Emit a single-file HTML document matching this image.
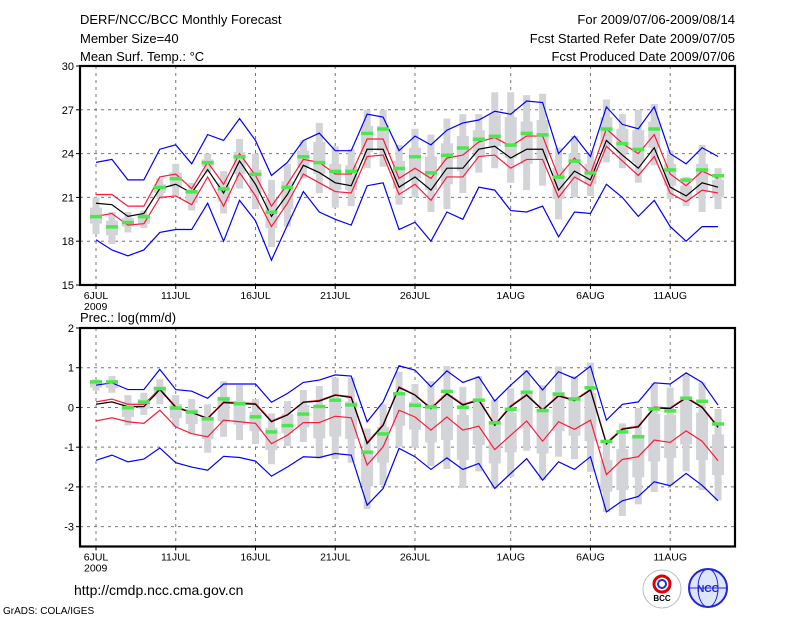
<!DOCTYPE html>
<html><head><meta charset="utf-8"><style>
body{margin:0;background:#fff;}
svg{display:block;font-family:"Liberation Sans",sans-serif;}
</style></head><body>
<svg id="c" width="800" height="618" viewBox="0 0 800 618">
<g font-size="13" fill="#000">
<text x="80" y="24">DERF/NCC/BCC Monthly Forecast</text>
<text x="80" y="43">Member Size=40</text>
<text x="80" y="61">Mean Surf. Temp.: °C</text>
<text x="735" y="24" text-anchor="end">For 2009/07/06-2009/08/14</text>
<text x="735" y="43" text-anchor="end">Fcst Started Refer Date 2009/07/05</text>
<text x="735" y="61" text-anchor="end">Fcst Produced Date 2009/07/06</text>
<text x="80" y="322">Prec.: log(mm/d)</text>
<text x="74" y="595" font-size="14">http://cmdp.ncc.cma.gov.cn</text>
<text x="3" y="614" font-size="10">GrADS: COLA/IGES</text>
</g>
<g><circle cx="662" cy="589" r="19" fill="#fff" stroke="#bbb"/><circle cx="662" cy="584" r="8" fill="none" stroke="#d00" stroke-width="3"/><circle cx="662" cy="584" r="4" fill="none" stroke="#23c" stroke-width="2"/><text x="662" y="601" font-size="8" text-anchor="middle" font-weight="bold">BCC</text></g>
<g><circle cx="708" cy="588" r="19" fill="#dde6ff" stroke="#22d" stroke-width="2"/><ellipse cx="708" cy="588" rx="10" ry="19" fill="none" stroke="#22d"/><line x1="689" y1="588" x2="727" y2="588" stroke="#22d"/><text x="708" y="592" font-size="10" text-anchor="middle" fill="#22d" font-weight="bold">NCC</text></g>
<g id="top"></g><g id="bot"></g>
</svg>
<script>
const days=["6JUL","11JUL","16JUL","21JUL","26JUL","1AUG","6AUG","11AUG"];
const dayIdx=[0,5,10,15,20,26,31,36];
const tTicks=[15,18,21,24,27,30];
const pTicks=[-3,-2,-1,0,1,2];
const tMean=[20.6,20.5,19.7,19.9,21.6,21.9,21.3,22.9,21.3,23.5,21.9,19.7,21.2,23.2,22.7,22.0,21.8,24.3,24.3,21.7,22.4,21.5,23.0,23.0,24.3,24.5,23.7,24.3,24.3,21.5,22.8,22.2,24.9,23.9,23.0,24.4,21.7,21.1,22.0,21.7];
const tRedHi=[21.2,21.2,20.4,20.4,22.4,22.6,21.6,23.4,21.9,24.0,22.5,20.4,21.9,23.6,23.4,22.6,22.6,25.0,25.0,22.3,23.0,22.3,23.7,23.9,24.8,25.1,24.5,25.2,25.2,22.4,23.7,22.6,25.7,24.7,24.0,25.3,22.6,21.8,22.8,22.3];
const tRedLo=[19.7,19.9,19.1,19.2,21.0,21.1,20.5,22.4,20.4,22.7,21.1,19.0,20.6,22.6,22.0,21.4,21.3,23.8,23.9,21.2,21.9,20.8,22.4,22.4,23.8,23.9,23.0,23.6,23.6,21.0,22.4,21.8,24.5,23.5,22.5,23.8,21.3,20.7,21.5,21.3];
const tBlueHi=[23.4,23.6,22.2,22.2,24.3,24.6,23.3,25.3,24.9,26.4,24.9,22.5,23.4,24.9,25.4,24.2,24.2,26.7,26.5,24.2,25.2,24.6,25.6,26.1,26.3,26.9,26.7,27.6,27.5,24.0,25.2,23.8,27.2,26.0,25.7,27.2,24.0,23.3,24.4,23.8];
const tBlueLo=[18.1,17.4,17.0,17.4,18.6,18.8,18.8,20.6,18.0,20.8,19.4,16.7,19.1,21.4,20.0,19.5,19.1,21.8,22.0,18.8,19.3,18.0,20.0,19.5,21.7,21.5,20.1,20.0,20.4,18.3,20.0,19.9,21.9,21.0,19.7,20.8,19.0,18.0,19.0,19.0];
const tObs=[19.7,19.0,19.3,19.7,21.7,22.3,21.4,23.4,21.6,23.8,22.6,20.0,21.7,23.8,23.4,22.8,22.8,25.4,25.7,23.0,23.8,22.7,23.9,24.4,25.0,25.2,24.6,25.4,25.3,22.4,23.5,22.7,25.7,24.7,24.3,25.7,22.9,22.2,22.9,22.5];
const tMax=[21.0,20.0,20.0,20.1,22.3,23.3,22.0,24.0,22.8,25.0,24.0,22.2,23.3,24.9,26.1,24.5,24.3,27.0,27.0,24.6,25.7,25.3,26.4,26.7,26.7,28.2,28.2,28.0,28.1,24.4,25.2,24.1,27.7,26.7,27.0,27.4,24.2,22.4,24.6,23.0];
const tMin=[18.5,17.8,18.6,18.9,20.9,21.1,20.1,22.7,19.9,21.6,20.2,17.6,19.0,22.3,21.3,20.3,20.4,23.0,23.1,20.5,21.0,20.0,20.2,21.3,22.7,23.0,22.0,21.5,21.8,19.5,21.0,21.1,23.4,23.0,22.0,23.2,20.9,20.4,20.0,20.2];
const tQ3=[20.3,19.4,19.6,19.8,21.9,22.7,21.5,23.6,22.0,24.1,22.9,20.9,22.1,24.2,24.8,23.3,23.2,25.9,25.9,23.5,24.4,23.8,24.7,25.2,25.6,26.7,26.5,26.2,26.3,23.0,24.0,23.3,26.5,25.7,25.6,26.2,23.3,21.8,23.3,22.2];
const tQ1=[19.2,18.4,19.0,19.2,21.3,21.7,20.6,23.1,20.7,22.6,21.3,18.9,20.2,23.0,22.6,21.5,21.5,24.1,24.2,21.6,22.3,21.5,21.9,22.8,23.8,24.5,23.7,23.3,23.6,20.9,22.2,21.9,24.6,24.0,23.4,24.4,21.8,21.0,21.3,21.0];
const pMean=[0.08,0.14,0.02,0.02,0.45,0.0,-0.13,-0.28,0.12,0.10,0.08,-0.36,-0.19,0.13,0.16,0.31,0.25,-0.91,-0.45,0.50,0.31,-0.03,0.34,0.06,0.18,-0.45,0.02,0.31,-0.07,0.29,0.17,0.44,-0.92,-0.55,-0.49,-0.01,-0.03,0.24,0.0,-0.50];
const pRedHi=[0.14,0.21,0.08,0.08,0.47,0.02,-0.12,-0.27,0.14,0.12,0.10,-0.34,-0.18,0.14,0.18,0.32,0.27,-0.88,-0.43,0.52,0.32,-0.01,0.36,0.08,0.20,-0.43,0.04,0.33,-0.05,0.31,0.19,0.46,-0.89,-0.53,-0.47,0.01,-0.01,0.26,0.02,-0.48];
const pRedLo=[-0.34,-0.26,-0.36,-0.40,-0.07,-0.49,-0.66,-0.74,-0.32,-0.36,-0.40,-0.91,-0.70,-0.38,-0.38,-0.22,-0.26,-1.45,-0.99,-0.07,-0.24,-0.57,-0.24,-0.57,-0.47,-1.06,-0.70,-0.34,-0.85,-0.36,-0.55,-0.32,-1.69,-1.31,-1.24,-0.82,-0.88,-0.59,-0.85,-1.34];
const pBlueHi=[0.56,0.62,0.45,0.45,0.96,0.45,0.41,0.23,0.59,0.59,0.59,0.13,0.35,0.63,0.69,0.82,0.79,-0.36,0.14,1.05,0.94,0.52,0.92,0.63,0.77,0.16,0.56,0.92,0.44,0.90,0.73,1.04,-0.32,0.08,0.14,0.62,0.59,0.87,0.63,0.06];
const pBlueLo=[-1.33,-1.20,-1.37,-1.30,-1.02,-1.39,-1.50,-1.58,-1.23,-1.26,-1.35,-1.73,-1.50,-1.24,-1.26,-1.16,-1.20,-2.46,-2.04,-1.03,-1.24,-1.56,-1.27,-1.56,-1.41,-2.04,-1.66,-1.29,-1.83,-1.37,-1.56,-1.24,-2.63,-2.35,-2.24,-1.87,-1.97,-1.66,-1.96,-2.35];
const pObs=[0.65,0.65,0.0,0.14,0.48,-0.01,-0.11,-0.28,0.22,0.10,-0.23,-0.61,-0.45,-0.16,0.03,0.19,0.07,-1.12,-0.66,0.35,0.06,0.02,0.41,0.01,0.19,-0.38,-0.04,0.39,-0.07,0.34,0.22,0.50,-0.85,-0.61,-0.73,-0.03,-0.08,0.24,0.16,-0.41];
const pMax=[0.71,0.79,0.31,0.37,0.71,0.31,0.21,0.08,0.66,0.56,0.21,-0.15,0.16,0.44,0.54,0.75,0.75,-0.53,0.08,0.90,0.59,0.66,1.04,0.52,0.79,0.20,0.48,0.94,0.56,1.03,0.79,1.13,-0.81,-0.40,-0.01,0.61,0.50,0.83,0.63,-0.04];
const pMin=[0.42,0.37,-0.45,-0.19,0.08,-0.49,-0.67,-1.14,-0.74,-0.82,-0.92,-1.43,-0.97,-0.87,-1.29,-1.30,-1.39,-2.56,-1.96,-0.99,-1.01,-1.48,-1.55,-2.03,-1.61,-2.04,-1.75,-1.09,-1.83,-1.24,-1.30,-1.62,-2.63,-2.73,-2.44,-2.13,-1.96,-1.61,-2.08,-2.34];
const pQ3=[0.63,0.67,0.10,0.21,0.53,0.09,-0.04,-0.26,0.27,0.17,-0.11,-0.51,-0.16,0.07,0.03,0.18,0.15,-1.10,-0.49,0.37,0.14,0.06,0.31,-0.19,0.12,-0.43,-0.14,0.37,-0.11,0.39,0.20,0.36,-1.32,-1.05,-0.69,-0.16,-0.19,0.15,-0.13,-0.68];
const pQ1=[0.50,0.49,-0.24,-0.03,0.26,-0.27,-0.42,-0.80,-0.35,-0.43,-0.60,-1.07,-0.65,-0.50,-0.78,-0.73,-0.79,-1.99,-1.39,-0.46,-0.56,-0.88,-0.82,-1.32,-0.94,-1.41,-1.13,-0.52,-1.16,-0.60,-0.71,-0.85,-2.12,-2.08,-1.76,-1.36,-1.27,-0.93,-1.32,-1.70];

const NS='http://www.w3.org/2000/svg';
const X0=80,X1=735;
const xDay=i=>96+15.95*i;
function mk(parent,tag,attrs){const e=document.createElementNS(NS,tag);for(const k in attrs)e.setAttribute(k,attrs[k]);parent.appendChild(e);return e;}
function panel(g,yTop,yBot,vTop,vBot,ticks,series,boxes,obs,name){
  const y=v=>yTop+(vTop-v)*(yBot-yTop)/(vTop-vBot);
  ticks.forEach(t=>{if(t===vTop||t===vBot)return;const l=mk(g,'line',{x1:X0,x2:X1,y1:y(t),y2:y(t),stroke:'#777','stroke-dasharray':'3,4'});
    
    });
  dayIdx.forEach(d=>{const l=mk(g,'line',{x1:xDay(d),x2:xDay(d),y1:yTop,y2:yBot,stroke:'#777','stroke-dasharray':'3,4'});
    
    });
  for(let i=0;i<40;i++){const x=xDay(i);
    const o=mk(g,'rect',{x:x-3.5,width:7,y:y(boxes[0][i]),height:y(boxes[1][i])-y(boxes[0][i]),fill:'#d3d4d8'});
    
    
    const q=mk(g,'rect',{x:x-6,width:12,y:y(boxes[2][i]),height:y(boxes[3][i])-y(boxes[2][i]),fill:'#d3d4d8'});
    
    }
  series.forEach(([arr,col,nm])=>{const p=mk(g,'polyline',{points:arr.map((v,i)=>xDay(i)+','+y(v)).join(' '),fill:'none',stroke:col,'stroke-width':1.2});
    
    });
  obs.forEach((v,i)=>{const r=mk(g,'rect',{x:xDay(i)-6,width:12,y:y(v)-1.5,height:3.5,fill:'#4ee64e'});
    
    });
  const f=mk(g,'rect',{x:X0,y:yTop,width:X1-X0,height:yBot-yTop,fill:'none',stroke:'#000','stroke-width':2.2});
  
  
  ticks.forEach(t=>{mk(g,'line',{x1:X0-4,x2:X0,y1:y(t),y2:y(t),stroke:'#000'});
    const tx=mk(g,'text',{x:X0-6,y:y(t)+4,'text-anchor':'end','font-size':11});tx.textContent=t;
    
    });
  dayIdx.forEach((d,k)=>{mk(g,'line',{x1:xDay(d),x2:xDay(d),y1:yBot,y2:yBot+4,stroke:'#000'});
    const tx=mk(g,'text',{x:xDay(d),y:yBot+14,'text-anchor':'middle','font-size':10.5});tx.textContent=days[k];
    
    });
  const yr=mk(g,'text',{x:84,y:yBot+25,'font-size':10.5});yr.textContent='2009';
  
  
}
panel(document.getElementById('top'),66,285,30,15,tTicks,
 [[tBlueHi,'#0000ff','blue-upper'],[tBlueLo,'#0000ff','blue-lower'],[tRedHi,'#ff1a3a','red-upper'],[tRedLo,'#ff1a3a','red-lower'],[tMean,'#000','ensemble-mean']],
 [tMax,tMin,tQ3,tQ1],tObs,'temp');
panel(document.getElementById('bot'),328,546.5,2,-3.5,pTicks,
 [[pBlueHi,'#0000ff','blue-upper'],[pBlueLo,'#0000ff','blue-lower'],[pRedLo,'#ff1a3a','red-lower'],[pRedHi,'#ff1a3a','red-upper'],[pMean,'#000','ensemble-mean']],
 [pMax,pMin,pQ3,pQ1],pObs,'precip');
</script>
</body></html>
